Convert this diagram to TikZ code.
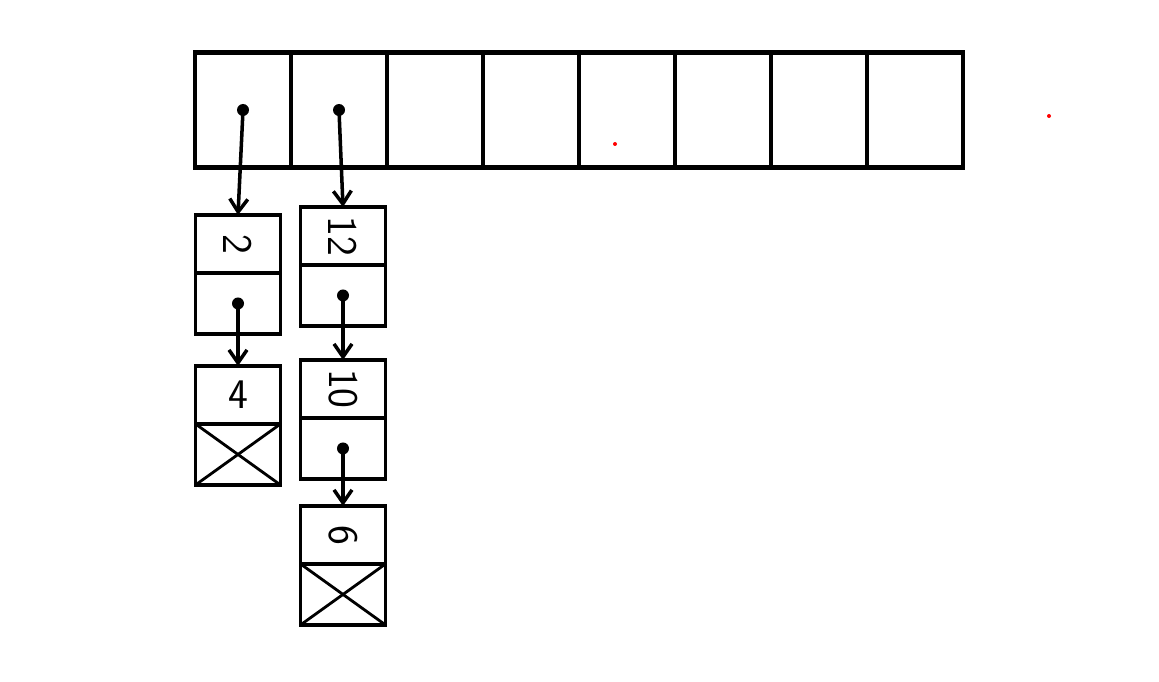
\documentclass[tikz,border=0pt]{standalone}
\usepackage{tikz}
\usetikzlibrary{positioning,arrows.meta}

\begin{document}
\begin{tikzpicture}[
  x=0.02cm, y=-0.02cm,
  slot/.style={draw, line width=2.4pt, minimum width=1.92cm, minimum height=2.3cm, inner sep=0pt, outer sep=0pt},
  key/.style={draw, line width=2pt, minimum width=1.7cm, minimum height=1.16cm, inner sep=0pt, outer sep=0pt,
    font=\sffamily\fontsize{24}{26}\selectfont},
  nxt/.style={draw, line width=2pt, minimum width=1.7cm, minimum height=1.22cm, inner sep=0pt, outer sep=0pt},
  dot/.style={circle, fill, inner sep=0pt, minimum size=0.24cm},
  ptr/.style={line width=2pt, -{Straight Barb[length=0.26cm, width=0.36cm]}},
  cross/.style={line width=1.6pt},
  reddot/.style={circle, fill=red, inner sep=0pt, minimum size=0.08cm}
]
\useasboundingbox (0,0) rectangle (1159,682);

% Main array of slots
\node[slot] (s0) at (243,110) {};
\node[slot] (s1) at (339,110) {};
\node[slot] (s2) at (435,110) {};
\node[slot] (s3) at (531,110) {};
\node[slot] (s4) at (627,110) {};
\node[slot] (s5) at (723,110) {};
\node[slot] (s6) at (819,110) {};
\node[slot] (s7) at (915,110) {};

% Chain for slot 0
\node[key] (k2) at (238,244) {\rotatebox{-90}{2}};
\node[nxt] (n2) [below=0pt of k2] {};
\node[key] (k4) [below=0.64cm of n2] {4};
\node[nxt] (n4) [below=0pt of k4] {};
\draw[cross] (n4.north west) -- (n4.south east);
\draw[cross] (n4.north east) -- (n4.south west);

% Chain for slot 1
\node[key] (k12) at (343,236) {\rotatebox{-90}{12}};
\node[nxt] (n12) [below=0pt of k12] {};
\node[key] (k10) [below=0.68cm of n12] {\rotatebox{-90}{10}};
\node[nxt] (n10) [below=0pt of k10] {};
\node[key] (k6) [below=0.54cm of n10] {\rotatebox{-90}{6}};
\node[nxt] (n6) [below=0pt of k6] {};
\draw[cross] (n6.north west) -- (n6.south east);
\draw[cross] (n6.north east) -- (n6.south west);

% Pointers
\node[dot] (d0) at (s0.center) {};
\node[dot] (d1) at (s1.center) {};
\node[dot] (d2) at (n2.center) {};
\node[dot] (d12) at (n12.center) {};
\node[dot] (d10) at (n10.center) {};
\draw[ptr] (d0.center) -- (k2.north);
\draw[ptr] (d1.center) -- (k12.north);
\draw[ptr] (d2.center) -- (k4.north);
\draw[ptr] (d12.center) -- (k10.north);
\draw[ptr] (d10.center) -- (k6.north);

% Stray marks
\node[reddot] (r1) at (615,144) {};
\node[reddot] (r2) at (1049,116) {};

\end{tikzpicture}
\end{document}
